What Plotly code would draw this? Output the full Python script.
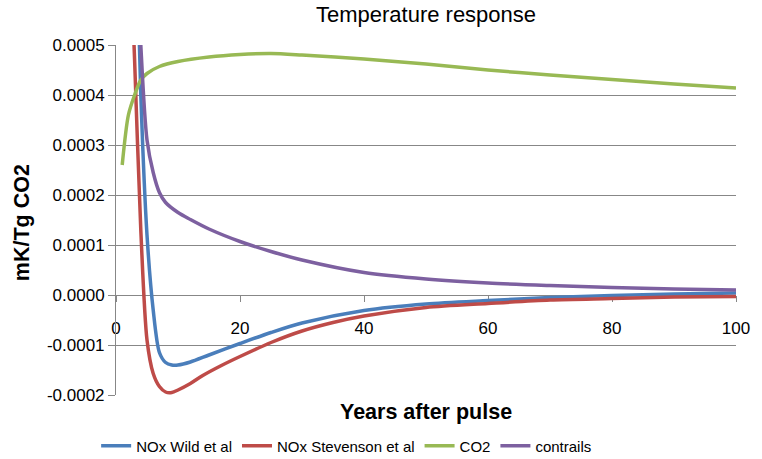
import plotly.graph_objects as go

# ---- data ----
years_wild = [3, 4, 5, 6, 7, 8, 9, 10, 12, 15, 20, 25, 30, 40, 50, 60, 70, 80, 90, 100]
nox_wild = [0.00085, 0.00040, 0.00012, -0.00003, -0.000115, -0.000135, -0.00014, -0.00014,
            -0.000134, -0.00012, -0.000097, -0.000075, -0.000056, -0.000031, -0.000018,
            -0.000011, -0.000005, -0.000001, 0.000002, 0.000004]

years_stev = [2, 3, 4, 5, 6, 7, 8, 9, 10, 12, 14, 17, 20, 25, 30, 35, 40, 50, 60, 70, 80, 90, 100]
nox_stev = [0.0008, 0.00047, 0.00013, -0.00009, -0.000157, -0.000183, -0.000194, -0.000195,
            -0.00019, -0.000177, -0.000161, -0.000141, -0.000123, -0.000095, -0.000072,
            -0.000055, -0.000042, -0.000025, -0.000017, -0.00001, -0.000007, -0.000004, -0.000003]

years_co2 = [1, 2, 3, 4, 5, 7, 10, 15, 20, 25, 30, 40, 50, 60, 70, 80, 90, 100]
co2 = [0.00026, 0.00036, 0.0004, 0.00043, 0.000443, 0.000457, 0.000467, 0.000476, 0.000481,
       0.000483, 0.00048, 0.000472, 0.000462, 0.00045, 0.00044, 0.000431, 0.000422, 0.000414]

years_con = [3, 4, 5, 6, 7, 8, 10, 12, 15, 20, 25, 30, 40, 50, 60, 70, 80, 90, 100]
contrails = [0.0008, 0.0005, 0.00031, 0.000245, 0.000205, 0.000185, 0.000165, 0.000151, 0.000132,
             0.000107, 0.000087, 0.00007, 0.000045, 0.000032, 0.000024, 0.000019, 0.000015,
             0.000012, 0.00001]

series_names = ["NOx Wild et al", "NOx Stevenson et al", "CO2", "contrails"]
x_tick_vals = [0, 20, 40, 60, 80, 100]
x_tick_text = ["0", "20", "40", "60", "80", "100"]
y_tick_vals = [-0.0002, -0.0001, 0.0, 0.0001, 0.0002, 0.0003, 0.0004, 0.0005]
y_tick_text = ["-0.0002", "-0.0001", "0.0000", "0.0001", "0.0002", "0.0003", "0.0004", "0.0005"]

colors = ["#4A7EBB", "#BE4B48", "#98B954", "#7D60A0"]
FONT = "Liberation Sans, Arial, Helvetica, sans-serif"
GRID = "#878787"

fig = go.Figure()
for xs, ys, name, c in zip([years_wild, years_stev, years_co2, years_con],
                           [nox_wild, nox_stev, co2, contrails], series_names, colors):
    fig.add_trace(go.Scatter(x=xs, y=ys, name=name, mode="lines",
                             line=dict(color=c, width=3.5, shape="spline", smoothing=0.8)))

fig.update_layout(
    width=762, height=459,
    margin=dict(l=116, r=26, t=45, b=64, autoexpand=False),
    paper_bgcolor="white", plot_bgcolor="white",
    font=dict(family=FONT, color="black"),
    title=dict(text="Temperature response", x=0.5, xref="paper", y=0.968, yref="container",
               xanchor="center", yanchor="middle", font=dict(size=22, family=FONT)),
    showlegend=True,
    legend=dict(orientation="h", x=0.372, xanchor="center", y=-0.146, yanchor="middle",
                font=dict(size=15, family=FONT), bgcolor="rgba(0,0,0,0)"),
    xaxis=dict(range=[0, 100], tickvals=x_tick_vals, ticktext=x_tick_text,
               showgrid=False, zeroline=False, showline=True, linecolor=GRID, linewidth=1,
               ticks="outside", ticklen=6, tickcolor=GRID, tickwidth=1,
               anchor="free", position=2 / 7, layer="below traces",
               ticklabelstandoff=12, tickfont=dict(size=17, family=FONT)),
    yaxis=dict(range=[-0.0002, 0.0005], tickvals=y_tick_vals, ticktext=y_tick_text,
               showgrid=True, gridcolor=GRID, gridwidth=1, zeroline=False,
               showline=True, linecolor=GRID, linewidth=1,
               ticks="outside", ticklen=7, tickcolor=GRID, tickwidth=1,
               tickfont=dict(size=17, family=FONT)),
    annotations=[
        dict(text="<b>Years after pulse</b>", x=0.5, y=-0.0486, xref="paper", yref="paper",
             xanchor="center", yanchor="middle", showarrow=False,
             font=dict(size=21.5, family=FONT)),
        dict(text="<b>mK/Tg CO2</b>", x=-0.1516, y=0.491, xref="paper", yref="paper",
             xanchor="center", yanchor="middle", showarrow=False, textangle=-90,
             font=dict(size=21.5, family=FONT)),
    ],
)

fig.write_html("out.html", config={"displayModeBar": False},
               post_script="document.body.style.margin='0';")
